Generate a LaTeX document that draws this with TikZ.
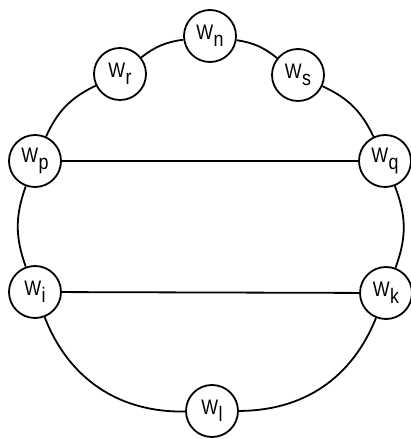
\documentclass[tikz,border=0pt]{standalone}
\usepackage{fontspec}
\setmainfont{Liberation Sans}
\newcommand\wlab[1]{\scalebox{0.85}[1]{W\kern0.5pt\raisebox{-0.33em}{#1}}}
\begin{document}
\begin{tikzpicture}[x=1pt,y=1pt,
  wnode/.style={circle,draw,line width=1.8pt,fill=white,minimum size=52pt,inner sep=0pt,font=\fontsize{21}{22}\selectfont},
  ring/.style={line width=1.8pt},
  chord/.style={line width=1.8pt}]
\useasboundingbox (0,0) rectangle (411,439);
\node[wnode] (n) at (210,403) {\wlab{n}};
\node[wnode] (s) at (298,364) {\wlab{s}};
\node[wnode] (q) at (385,278) {\wlab{q}};
\node[wnode] (k) at (386,146) {\wlab{k}};
\node[wnode] (l) at (212,28) {\wlab{l}};
\node[wnode] (i) at (35,147) {\wlab{i}};
\node[wnode] (p) at (35,278) {\wlab{p}};
\node[wnode] (r) at (120,365) {\wlab{r}};
\draw[ring] (n) to[bend left=15] (s);
\draw[ring] (s) to[bend left=20] (q);
\draw[ring] (q) to[bend left=21] (k);
\draw[ring] (k) to[bend left=34] (l);
\draw[ring] (l) to[bend left=35] (i);
\draw[ring] (i) to[bend left=20] (p);
\draw[ring] (p) to[bend left=20] (r);
\draw[ring] (r) to[bend left=15] (n);
\draw[chord] (p) -- (q);
\draw[chord] (i) -- (k);
\end{tikzpicture}
\end{document}
